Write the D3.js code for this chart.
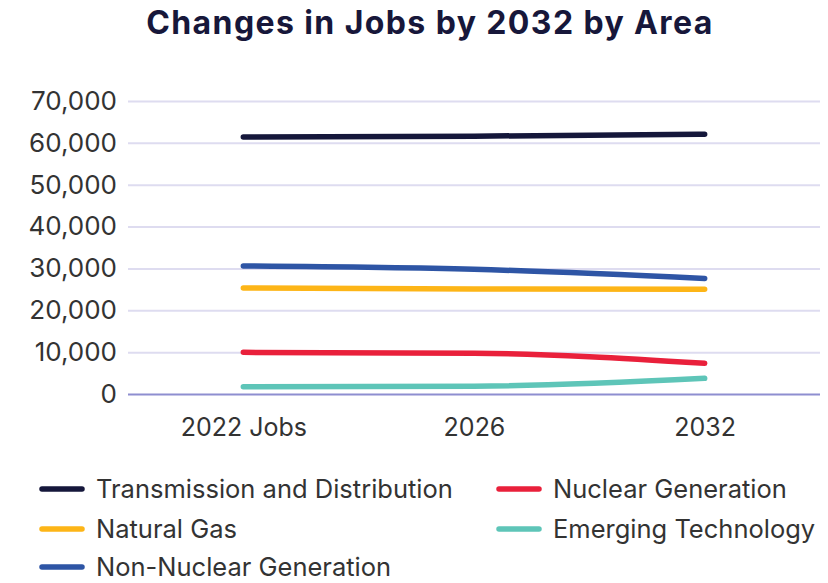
<!DOCTYPE html>
<html>
<head>
<meta charset="utf-8">
<script src="https://cdn.jsdelivr.net/npm/d3@7"></script>
<style>
  body { margin: 0; background: #fff; }
  text { font-family: "Inter", "Noto Sans", sans-serif; }
</style>
</head>
<body>
<script>
// datos
var categorias = ["2022 Jobs", "2026", "2032"]
var series = ["Transmission and Distribution", "Nuclear Generation", "Natural Gas", "Emerging Technology", "Non-Nuclear Generation"]
var transmision = [61400, 61600, 62050]
var nuclear = [9950, 9750, 7350]
var gasNatural = [25350, 25100, 25000]
var emergente = [1750, 1850, 3750]
var noNuclear = [30600, 29800, 27600]
var ticksY = [0, 10000, 20000, 30000, 40000, 50000, 60000, 70000]
var colores = ["#15173b", "#e9203b", "#fdb517", "#5ec5b8", "#2e55a5"]

var valores = [transmision, nuclear, gasNatural, emergente, noNuclear]

var width = 828
var height = 583
var margin = { top: 101, bottom: 189, left: 128, right: 8 }

var svg = d3.select("body").append("svg")
  .attr("width", width)
  .attr("height", height)

// titulo
svg.append("text")
  .attr("x", 430)
  .attr("y", 34)
  .attr("text-anchor", "middle")
  .attr("font-size", 32)
  .attr("font-weight", 700)
  .attr("letter-spacing", 1.4)
  .attr("fill", "#17173a")
  .text("Changes in Jobs by 2032 by Area")

var escalaX = d3.scalePoint()
  .domain(categorias)
  .range([margin.left, width - margin.right])
  .padding(0.5)

var escalaY = d3.scaleLinear()
  .domain([0, 70000])
  .range([height - margin.bottom, margin.top])

// rejilla
var ejeY = d3.axisLeft(escalaY)
  .tickValues(ticksY)
  .tickSize(-(width - margin.left - margin.right))
  .tickFormat(d3.format(","))

var gY = svg.append("g")
  .attr("transform", "translate(" + margin.left + ",0)")
  .call(ejeY)
gY.select(".domain").remove()
gY.selectAll(".tick line")
  .attr("stroke", d => d === 0 ? "#8e8ed0" : "#dedcf0")
  .attr("stroke-width", 2)
gY.selectAll(".tick text")
  .attr("font-size", 26)
  .attr("fill", "#333")
  .attr("x", -11)

// eje X
var ejeX = d3.axisBottom(escalaX).tickSize(0).tickPadding(24)
var gX = svg.append("g")
  .attr("transform", "translate(0," + (height - margin.bottom) + ")")
  .call(ejeX)
gX.select(".domain").remove()
gX.selectAll("text")
  .attr("font-size", 25)
  .attr("fill", "#333")

// lineas
var linea = d3.line()
  .x((d, i) => escalaX(categorias[i]))
  .y(d => escalaY(d))
  .curve(d3.curveMonotoneX)

svg.selectAll(".serie")
  .data(valores)
  .enter()
  .append("path")
  .attr("class", "serie")
  .attr("d", linea)
  .attr("fill", "none")
  .attr("stroke", (d, i) => colores[i])
  .attr("stroke-width", 5.5)
  .attr("stroke-linecap", "round")

// leyenda
var posLeyenda = [[40, 489], [497, 489], [40, 529], [497, 529], [40, 567]]
var leyenda = svg.selectAll(".leyenda")
  .data(series)
  .enter()
  .append("g")
  .attr("class", "leyenda")
  .attr("transform", (d, i) => "translate(" + posLeyenda[i][0] + "," + posLeyenda[i][1] + ")")

leyenda.append("line")
  .attr("x1", 2).attr("x2", 42)
  .attr("y1", 0).attr("y2", 0)
  .attr("stroke", (d, i) => colores[i])
  .attr("stroke-width", 5.5)
  .attr("stroke-linecap", "round")

leyenda.append("text")
  .attr("x", 56)
  .attr("y", 0)
  .attr("dy", "0.35em")
  .attr("font-size", 25.5)
  .attr("fill", "#333")
  .text(d => d)
</script>
</body>
</html>
